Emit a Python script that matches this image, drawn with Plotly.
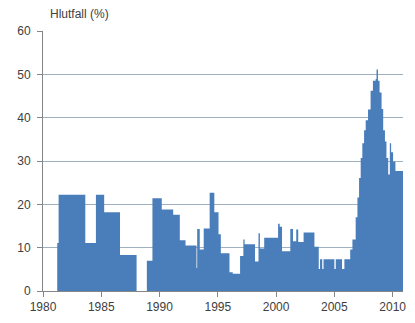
import plotly.graph_objects as go

# Step series: each value holds from its start year until the next start year
start_year = [
    1981.22, 1981.34, 1983.63, 1984.54, 1985.25, 1986.61, 1988.03, 1988.91,
    1989.39, 1990.19, 1991.17, 1991.74, 1992.23, 1993.17, 1993.23, 1993.45,
    1993.79, 1994.30, 1994.70, 1995.06, 1995.26, 1996.00, 1996.28, 1996.91,
    1997.19, 1997.30, 1998.19, 1998.49, 1998.61, 1998.98, 2000.17, 2000.31,
    2000.51, 2001.22, 2001.45, 2001.73, 2001.90, 2002.36, 2003.29, 2003.66,
    2003.77, 2003.96, 2004.07, 2005.00, 2005.12, 2005.66, 2005.86, 2006.36,
    2006.55, 2006.83, 2006.98, 2007.12, 2007.26, 2007.40, 2007.55, 2007.69,
    2007.89, 2008.11, 2008.31, 2008.54, 2008.62, 2008.74, 2008.88, 2009.05,
    2009.19, 2009.34, 2009.47, 2009.62, 2009.76, 2009.87, 2010.04, 2010.24,
]
hlutfall = [
    11.1, 22.2, 11.1, 22.2, 18.2, 8.3, 0.0, 7.0,
    21.4, 18.8, 17.6, 11.7, 10.5, 5.3, 14.3, 9.6,
    14.4, 22.7, 18.2, 13.1, 8.7, 4.3, 4.0, 8.1,
    11.9, 10.8, 6.8, 13.3, 9.8, 12.3, 15.5, 14.8,
    9.2, 14.3, 11.5, 14.2, 11.3, 13.5, 10.2, 5.1,
    7.3, 5.1, 7.3, 5.1, 7.3, 5.1, 7.3, 9.6,
    11.9, 17.0, 21.6, 26.1, 30.7, 34.1, 37.1, 39.4,
    41.9, 46.2, 48.5, 48.9, 51.1, 48.5, 45.8, 42.0,
    37.1, 34.5, 30.7, 26.9, 34.1, 32.0, 29.8, 27.7,
]
end_year = 2010.89

x_ticks = [1980, 1985, 1990, 1995, 2000, 2005, 2010]
y_ticks = [0, 10, 20, 30, 40, 50, 60]

xs = start_year + [end_year]
ys = hlutfall + [hlutfall[-1]]

fig = go.Figure()
fig.add_trace(go.Scatter(
    x=xs, y=ys, mode="lines", line=dict(shape="hv", width=0, color="#4a7ebb"),
    fill="tozeroy", fillcolor="#4a7ebb", hoverinfo="skip",
))

font = dict(family="Liberation Sans, Arial, sans-serif", size=12, color="#404040")

fig.update_layout(
    width=415, height=323,
    margin=dict(l=43, r=9, t=31, b=28),
    paper_bgcolor="white", plot_bgcolor="white",
    showlegend=False, font=font,
    xaxis=dict(
        range=[1980, end_year], tickvals=x_ticks, ticks="outside", ticklen=5,
        tickcolor="#868686", showline=True, linecolor="#868686", linewidth=1,
        showgrid=False, zeroline=False, tickfont=font,
    ),
    yaxis=dict(
        range=[0, 60], tickvals=y_ticks, ticks="outside", ticklen=5,
        tickcolor="#868686", showline=True, linecolor="#868686", linewidth=1,
        showgrid=True, gridcolor="#9fb0c0", gridwidth=1, zeroline=False,
        tickfont=font, ticklabelstandoff=4,
    ),
    annotations=[dict(
        text="Hlutfall (%)", xref="paper", yref="paper", x=0.013, y=1,
        xanchor="left", yanchor="bottom", yshift=8, showarrow=False,
        font=dict(family="Liberation Sans, Arial, sans-serif", size=12, color="#404040"),
    )],
)

fig.write_html("out.html")
